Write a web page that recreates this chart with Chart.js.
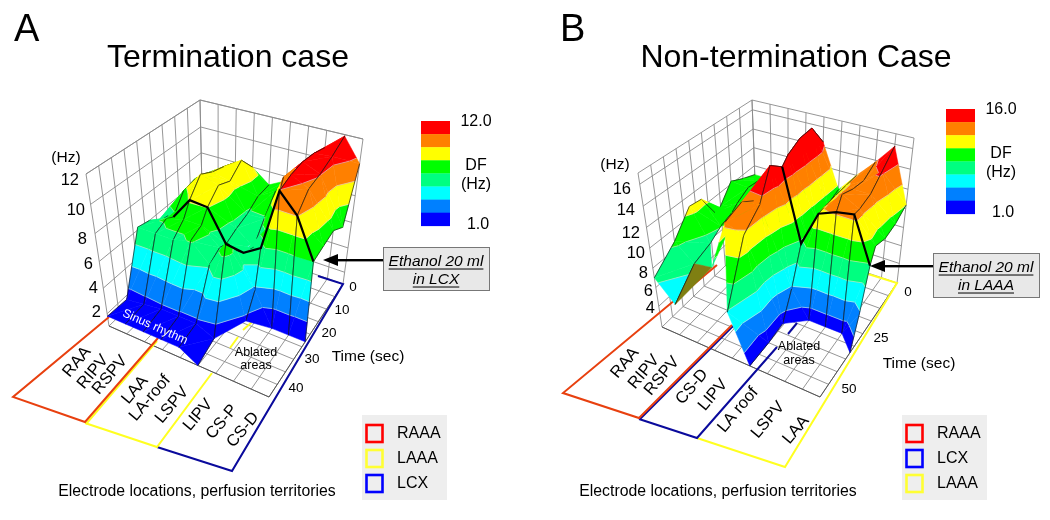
<!DOCTYPE html>
<html>
<head>
<meta charset="utf-8">
<style>
  html, body { margin: 0; padding: 0; background: #fff; }
  canvas { display: block; }
</style>
<script src="https://cdn.jsdelivr.net/npm/chart.js@4"></script>
</head>
<body>
<canvas id="figure" width="1050" height="520"></canvas>
<script>
// Colour bands of both surfaces, lowest first
const bandColors = ['#0000ff', '#0080ff', '#00ffff', '#00ff80', '#00ff00', '#ffff00', '#ff8000', '#ff0000'];

// Panel A: dominant frequency (Hz) per electrode node (columns) and time (rows)
const timesA = [0, 5, 10, 15, 20, 23, 28, 36, 45];
const dfA = [
    [5.0, 7.0, 8.0, 8.0, 7.0, 7.7, 9.5, 10.8, 11.9, 10.3],
    [5.0, 7.5, 8.4, 9.24, 6.9, 7.7, 9.6, 11.1, 11.2, 6.5],
    [5.0, 7.8, 8.7, 8.4, 6.3, 6.4, 9.8, 11.2, 10.7, 7.1],
    [5.2, 7.6, 9.2, 8.8, 6.0, 5.0, 7.2, 11.0, 10.4, 6.8],
    [5.4, 6.3, 8.0, 7.9, 5.6, 5.4, 6.2, 10.6, 9.3, 6.5],
    [6.0, 6.6, 7.0, 7.0, 5.8, 6.0, 3.5, 1.0, 1.0, 1.0],
    [6.2, 6.2, 6.2, 6.6, 5.3, 7.4, 2.0, null, null, null],
    [1.7, 1.9, 2.1, 2.1, 2.1, 1.5, null, null, null, null],
    [1.8, 1.8, 1.8, 1.8, 1.8, 1.0, null, null, null, null]
];
const ethanolRowA = 4;
const ethanolFromA = 1;
const zTicksA = [2, 4, 6, 8, 10, 12];
const timeTicksA = [0, 10, 20, 30, 40];
const siteLabelsA = ['RAA', 'RIPV', 'RSPV', 'LAA', 'LA-roof', 'LSPV', 'LIPV', 'CS-P', 'CS-D'];
const legendLabelsA = ['RAAA', 'LAAA', 'LCX'];

// Panel B
const timesB = [0, 6, 12, 18, 21, 27, 33, 42, 54];
const dfB = [
    [9.0, 9.0, 9.0, 8.0, 14.5, 10.0, 12.0, 13.8, 15.8, 10.4],
    [9.6, 10.0, 9.5, 8.0, 16.8, 9.5, 12.0, 13.0, 14.4, 9.6],
    [10.3, 10.2, 9.5, 8.0, 16.7, 9.0, 12.0, 13.2, 13.2, 9.3],
    [8.6, 9.5, 9.0, 8.0, 16.0, 8.6, 11.9, 13.7, 12.8, 9.7],
    [8.4, 9.0, 9.0, 9.0, 15.3, 8.2, 11.8, 12.5, 12.8, 8.3],
    [10.8, 8.6, null, 12.4, 16.3, 4.5, 1.7, 1.7, 1.7, 4.5],
    [11.0, 7.8, null, 13.2, 13.5, 1.9, null, null, null, 1.7],
    [8.8, 7.2, 7.5, 12.6, 12.0, 1.7, null, null, null, null],
    [7.0, 5.0, null, null, 6.5, 1.7, null, null, null, null]
];
const ethanolRowB = 4;
const ethanolFromB = 4;
const zTicksB = [4, 6, 8, 10, 12, 14, 16];
const timeTicksB = [0, 25, 50];
const siteLabelsB = ['RAA', 'RIPV', 'RSPV', 'CS-D', 'LIPV', 'LA roof', 'LSPV', 'LAA'];
const legendLabelsB = ['RAAA', 'LCX', 'LAAA'];

const FONT = '"Liberation Sans", Arial, sans-serif';
const RED = '#e8400f', YELLOW = '#ffff20', NAVY = '#0a0a9c';

// Screen corners of the two plot boxes (floor and top of the cube)
const panelA = {
    times: timesA, df: dfA, tMax: 45, zMin: 1, zMax: 12, bandMin: 1, bandMax: 12,
    floor: { back: [203, 235], right: [343, 284], left: [109, 326], front: [269, 397] },
    top: { back: [200, 100], right: [363, 139], left: [86, 174], front: [260, 231] },
    ethanolRow: ethanolRowA, ethanolFrom: ethanolFromA, zTicks: zTicksA, olive: []
};
const panelB = {
    times: timesB, df: dfB, tMax: 54, zMin: 1.7, zMax: 17, bandMin: 1, bandMax: 16,
    floor: { back: [757, 235], right: [897, 283], left: [662, 327], front: [820, 397] },
    top: { back: [752, 100], right: [914, 138], left: [638, 173], front: [812, 231] },
    ethanolRow: ethanolRowB, ethanolFrom: ethanolFromB, zTicks: zTicksB, olive: [[1, 7]]
};

function mix(a, b, f) {
    return [a[0] + (b[0] - a[0]) * f, a[1] + (b[1] - a[1]) * f];
}

function quadPoint(c, u, v) {
    return mix(mix(c.back, c.right, u), mix(c.left, c.front, u), v);
}

// u: electrode axis 0..1, v: time axis 0..1, w: height 0..1
function project(panel, u, v, w) {
    const lift = w * (0.88 + 0.12 * w);
    return mix(quadPoint(panel.floor, u, v), quadPoint(panel.top, u, v), lift);
}

function nodePoint(panel, col, row) {
    const u = col / (panel.df[0].length - 1);
    const v = panel.times[row] / panel.tMax;
    const z = panel.df[row][col];
    const p = project(panel, u, v, (z - panel.zMin) / (panel.zMax - panel.zMin));
    return { x: p[0], y: p[1], z: z };
}

// Box grid as one broken line per panel, gaps are null points
function gridPoints(panel) {
    const pts = [];
    const seg = (a, b) => {
        pts.push({ x: a[0], y: a[1] }, { x: b[0], y: b[1] }, { x: null, y: null });
    };
    for (let i = 0; i <= 9; i++) {
        const f = i / 9;
        seg(project(panel, 0, f, 0), project(panel, 0, f, 1));
        seg(project(panel, f, 0, 0), project(panel, f, 0, 1));
        seg(project(panel, f, 0, 0), project(panel, f, 1, 0));
        seg(project(panel, 0, f, 0), project(panel, 1, f, 0));
    }
    panel.zTicks.concat([panel.zMax]).forEach(z => {
        const w = (z - panel.zMin) / (panel.zMax - panel.zMin);
        seg(project(panel, 0, 0, w), project(panel, 0, 1, w));
        seg(project(panel, 0, 0, w), project(panel, 1, 0, w));
    });
    return pts;
}

function edgePoints(panel) {
    const c = panel.floor;
    return [c.left, c.front, c.right].map(p => ({ x: p[0], y: p[1] }));
}

function path(coords) {
    return coords.map(p => ({ x: p[0], y: p[1] }));
}

function lineSet(data, color, width) {
    return { data: data, borderColor: color, borderWidth: width, showLine: true, pointRadius: 0, spanGaps: false, tension: 0 };
}

// Keep the part of a polygon between two heights
function clipBand(poly, lo, hi) {
    const clip = (pts, level, keepAbove) => {
        const out = [];
        pts.forEach((a, i) => {
            const b = pts[(i + 1) % pts.length];
            const aIn = keepAbove ? a.z >= level : a.z <= level;
            const bIn = keepAbove ? b.z >= level : b.z <= level;
            if (aIn) out.push(a);
            if (aIn !== bIn) {
                const f = (level - a.z) / (b.z - a.z);
                out.push({ x: a.x + (b.x - a.x) * f, y: a.y + (b.y - a.y) * f, z: level });
            }
        });
        return out;
    };
    let res = poly;
    if (lo !== null) res = clip(res, lo, true);
    if (res.length && hi !== null) res = clip(res, hi, false);
    return res;
}

function drawSurface(ctx, panel, px, py) {
    const rows = panel.df.length, cols = panel.df[0].length;
    const step = (panel.bandMax - panel.bandMin) / bandColors.length;
    const has = (c, r) => panel.df[r][c] !== null;

    const fillPoly = (poly, color) => {
        ctx.beginPath();
        poly.forEach((p, i) => {
            if (i === 0) ctx.moveTo(px(p.x), py(p.y));
            else ctx.lineTo(px(p.x), py(p.y));
        });
        ctx.closePath();
        ctx.fillStyle = color;
        ctx.strokeStyle = color;
        ctx.lineWidth = 0.5;
        ctx.fill();
        ctx.stroke();
    };

    const drawTriangle = (tri, olive) => {
        if (olive) {
            fillPoly(tri, '#7f7f12');
            return;
        }
        bandColors.forEach((color, b) => {
            const lo = b === 0 ? null : panel.bandMin + b * step;
            const hi = b === bandColors.length - 1 ? null : panel.bandMin + (b + 1) * step;
            const poly = clipBand(tri, lo, hi);
            if (poly.length > 2) fillPoly(poly, color);
        });
        // thin contour between the bands
        ctx.strokeStyle = 'rgba(225,225,225,0.85)';
        ctx.lineWidth = 0.7;
        for (let b = 1; b < bandColors.length; b++) {
            const level = panel.bandMin + b * step;
            const hits = [];
            tri.forEach((a, i) => {
                const c = tri[(i + 1) % 3];
                if ((a.z - level) * (c.z - level) < 0) {
                    const f = (level - a.z) / (c.z - a.z);
                    hits.push([a.x + (c.x - a.x) * f, a.y + (c.y - a.y) * f]);
                }
            });
            if (hits.length === 2) {
                ctx.beginPath();
                ctx.moveTo(px(hits[0][0]), py(hits[0][1]));
                ctx.lineTo(px(hits[1][0]), py(hits[1][1]));
                ctx.stroke();
            }
        }
    };

    const meshLine = (a, b) => {
        ctx.strokeStyle = 'rgba(20,20,20,0.85)';
        ctx.lineWidth = 0.8;
        ctx.beginPath();
        ctx.moveTo(px(a.x), py(a.y));
        ctx.lineTo(px(b.x), py(b.y));
        ctx.stroke();
    };

    // Painter's order, far corner first
    for (let r = 0; r < rows - 1; r++) {
        for (let c = 0; c < cols - 1; c++) {
            const corners = [[c, r], [c + 1, r], [c, r + 1], [c + 1, r + 1]].filter(n => has(n[0], n[1]));
            if (corners.length < 3) continue;
            const pts = corners.map(n => nodePoint(panel, n[0], n[1]));
            const olive = panel.olive.some(o => o[0] === c && o[1] === r);
            if (pts.length === 3) {
                drawTriangle(pts, olive);
            } else {
                drawTriangle([pts[0], pts[1], pts[2]], olive);
                drawTriangle([pts[1], pts[3], pts[2]], false);
            }
            if (has(c, r) && has(c, r + 1)) meshLine(nodePoint(panel, c, r), nodePoint(panel, c, r + 1));
            if (has(c + 1, r) && has(c + 1, r + 1)) meshLine(nodePoint(panel, c + 1, r), nodePoint(panel, c + 1, r + 1));
        }
    }

    // Thick line at the time of the ethanol injection
    ctx.strokeStyle = '#000';
    ctx.lineWidth = 2.2;
    ctx.lineJoin = 'miter';
    ctx.beginPath();
    for (let c = panel.ethanolFrom; c < cols; c++) {
        const p = nodePoint(panel, c, panel.ethanolRow);
        if (c === panel.ethanolFrom) ctx.moveTo(px(p.x), py(p.y));
        else ctx.lineTo(px(p.x), py(p.y));
    }
    ctx.stroke();
}

const figurePlugin = {
    id: 'figure',
    afterDatasetsDraw(chart) {
        const ctx = chart.ctx;
        const px = v => chart.scales.x.getPixelForValue(v);
        const py = v => chart.scales.y.getPixelForValue(v);

        const text = (str, x, y, size, opts = {}) => {
            ctx.save();
            ctx.translate(px(x), py(y));
            if (opts.rot) ctx.rotate(opts.rot * Math.PI / 180);
            ctx.font = (opts.italic ? 'italic ' : '') + size + 'px ' + FONT;
            ctx.fillStyle = opts.color || '#000';
            ctx.textAlign = opts.align || 'center';
            ctx.textBaseline = 'middle';
            ctx.fillText(str, 0, 0);
            if (opts.underline) {
                const w = ctx.measureText(str).width;
                ctx.fillRect(-w / 2, size * 0.42, w, 1);
            }
            ctx.restore();
        };

        drawSurface(ctx, panelA, px, py);
        drawSurface(ctx, panelB, px, py);

        // Panel letters and titles
        text('A', 14, 31, 38, { align: 'left' });
        text('B', 560, 31, 38, { align: 'left' });
        text('Termination case', 228, 58, 32);
        text('Non-termination Case', 796, 58, 32);

        // z axis labels
        const zRightA = [101, 98, 93, 87, 85, 79];
        const zYA = [312, 288, 264, 239, 210, 180];
        zTicksA.forEach((z, i) => text(String(z), zRightA[i], zYA[i], 16.5, { align: 'right' }));
        const zRightB = [655, 653, 648, 645, 640, 635, 631];
        const zYB = [308, 291, 273, 253, 233, 210, 189];
        zTicksB.forEach((z, i) => text(String(z), zRightB[i], zYB[i], 16.5, { align: 'right' }));
        text('(Hz)', 66, 158, 15.5);
        text('(Hz)', 615, 165, 15.5);

        // time axis labels
        const timeXA = [353, 342, 329, 312, 296], timeYA = [287, 310, 333, 359, 388];
        timeTicksA.forEach((t, i) => text(String(t), timeXA[i], timeYA[i], 13.5));
        const timeXB = [908, 881, 849], timeYB = [292, 338, 389];
        timeTicksB.forEach((t, i) => text(String(t), timeXB[i], timeYB[i], 13.5));
        text('Time (sec)', 368, 357, 15.5);
        text('Time (sec)', 919, 364, 15.5);

        // Electrode names on the floor strip
        const siteXA = [77, 93, 110, 135, 150, 172, 198, 222, 243];
        const siteYA = [362, 372, 375, 390, 398, 405, 415, 422, 430];
        siteLabelsA.forEach((s, i) => text(s, siteXA[i], siteYA[i], 16.5, { rot: -50 }));
        const siteXB = [625, 644, 662, 692, 713, 738, 768, 796];
        const siteYB = [363, 372, 376, 387, 395, 410, 420, 430];
        siteLabelsB.forEach((s, i) => text(s, siteXB[i], siteYB[i], 16.5, { rot: -50 }));

        text('Ablated', 256, 353, 12.5);
        text('areas', 256, 366, 12.5);
        text('Ablated', 799, 347, 12.5);
        text('areas', 799, 361, 12.5);
        text('Sinus rhythm', 155, 327, 12, { rot: 24, color: '#fff' });

        text('Electrode locations, perfusion territories', 197, 492, 15.8);
        text('Electrode locations, perfusion territories', 718, 492, 15.8);

        // Colour scales
        const scaleBar = (x, yTop, labels) => {
            const h = 13.1;
            bandColors.slice().reverse().forEach((c, i) => {
                ctx.fillStyle = c;
                ctx.fillRect(px(x), py(yTop + i * h), 29, h + 0.3);
            });
            text(labels[0], x + 55, yTop + 1, 16);
            text('DF', x + 55, yTop + 45, 16);
            text('(Hz)', x + 55, yTop + 64, 16);
            text(labels[1], x + 57, yTop + 104, 16);
        };
        scaleBar(421, 121, ['12.0', '1.0']);
        scaleBar(946, 109, ['16.0', '1.0']);

        // Ethanol call-outs with their arrows
        const callout = (x, y, w, h, line2, arrowY, tip) => {
            ctx.fillStyle = '#e8e8e8';
            ctx.strokeStyle = '#777';
            ctx.lineWidth = 1;
            ctx.fillRect(px(x), py(y), w, h);
            ctx.strokeRect(px(x) + 0.5, py(y) + 0.5, w, h);
            text('Ethanol 20 ml', x + w / 2, y + 15, 15.5, { italic: true, underline: true });
            text(line2, x + w / 2, y + 33, 15.5, { italic: true, underline: true });
            ctx.fillStyle = '#000';
            ctx.fillRect(px(tip + 10), py(arrowY) - 1, x - tip - 10, 2.4);
            ctx.beginPath();
            ctx.moveTo(px(tip), py(arrowY));
            ctx.lineTo(px(tip + 15), py(arrowY) - 6);
            ctx.lineTo(px(tip + 15), py(arrowY) + 6);
            ctx.closePath();
            ctx.fill();
        };
        callout(383, 247, 106, 43, 'in LCX', 260, 323);
        callout(933, 253, 106, 44, 'in LAAA', 266, 870);

        // Perfusion territory keys
        const keyBox = (x, labels, colors) => {
            ctx.fillStyle = '#eeeeee';
            ctx.fillRect(px(x), py(415), 85, 85);
            labels.forEach((s, i) => {
                ctx.strokeStyle = colors[i];
                ctx.lineWidth = 2.6;
                ctx.strokeRect(px(x + 4.5), py(425 + i * 25), 16, 17);
                text(s, x + 35, 434 + i * 25, 16, { align: 'left' });
            });
        };
        keyBox(362, legendLabelsA, ['#ff0000', '#ffff33', '#0000ff']);
        keyBox(902, legendLabelsB, ['#ff0000', '#0000ff', '#ffff33']);
    }
};

new Chart(document.getElementById('figure'), {
    type: 'scatter',
    data: {
        datasets: [
            // first dataset is painted last
            lineSet(path([[109, 317], [13, 397], [85, 422], [158, 338]]), RED, 2),
            lineSet(path([[86, 424], [157, 341]]), YELLOW, 2),
            lineSet(path([[85, 423], [157, 447], [212, 373]]), YELLOW, 2),
            lineSet(path([[230, 348], [238, 337]]), YELLOW, 2),
            lineSet(path([[243, 330], [252, 322]]), YELLOW, 2),
            lineSet(path([[157, 447], [232, 471], [343, 284], [318, 276]]), NAVY, 2),
            lineSet(path([[717, 265], [563, 393], [639, 418], [732, 325]]), RED, 2),
            lineSet(path([[640, 419], [733, 326]]), NAVY, 2),
            lineSet(path([[639, 419], [697, 438], [777, 347]]), NAVY, 2),
            lineSet(path([[788, 334], [797, 323]]), NAVY, 2),
            lineSet(path([[697, 438], [785, 467], [897, 283], [868, 274]]), YELLOW, 2),
            lineSet(edgePoints(panelA), '#555', 1),
            lineSet(edgePoints(panelB), '#555', 1),
            lineSet(gridPoints(panelA), '#8a8a8a', 0.9),
            lineSet(gridPoints(panelB), '#8a8a8a', 0.9)
        ]
    },
    options: {
        responsive: false,
        animation: false,
        events: [],
        layout: { padding: 0 },
        plugins: { legend: { display: false }, tooltip: { enabled: false } },
        scales: {
            x: { type: 'linear', min: 0, max: 1050, display: false },
            y: { type: 'linear', min: 0, max: 520, reverse: true, display: false }
        }
    },
    plugins: [figurePlugin]
});
</script>
</body>
</html>
